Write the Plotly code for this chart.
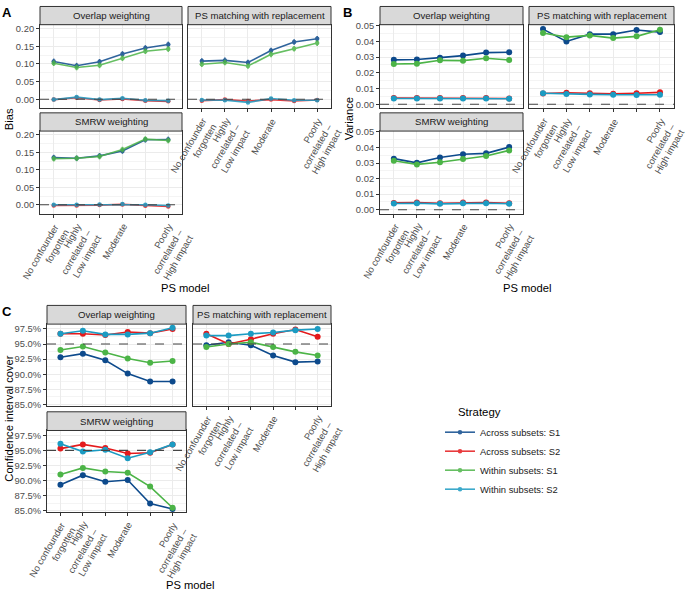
import math
import plotly.graph_objects as go

W, H = 685, 598

# PS model categories (positions 3 and 5 carry no visible tick label)
model_pos = [1, 2, 3, 4, 5, 6]
model_ticktext = ["No confounder\nforgotten", "Highly\ncorrelated –\nLow impact", "",
                  "Moderate", "", "Poorly\ncorrelated –\nHigh impact"]

strategies = ["Across subsets: S1", "Across subsets: S2", "Within subsets: S1", "Within subsets: S2"]
colors = ["#0d4a8c", "#e41a1c", "#4cb447", "#1b9bc2"]
methods = ["Overlap weighting", "PS matching with replacement", "SMRW weighting"]

# A - Bias (rows follow strategies)
bias_overlap = [
    [0.107, 0.095, 0.106, 0.128, 0.145, 0.155],
    [-0.001, 0.004, -0.002, 0.001, -0.004, -0.006],
    [0.102, 0.090, 0.096, 0.116, 0.136, 0.142],
    [-0.001, 0.006, -0.001, 0.003, -0.003, -0.004],
]
bias_matching = [
    [0.108, 0.110, 0.104, 0.138, 0.162, 0.171],
    [-0.004, -0.001, -0.005, -0.001, -0.005, -0.002],
    [0.099, 0.104, 0.094, 0.127, 0.143, 0.159],
    [-0.002, -0.003, -0.009, 0.002, -0.003, -0.003],
]
bias_smrw = [
    [0.135, 0.133, 0.140, 0.154, 0.186, 0.187],
    [-0.002, -0.002, -0.001, 0.001, -0.003, -0.005],
    [0.132, 0.133, 0.138, 0.158, 0.188, 0.184],
    [0.000, 0.000, 0.001, 0.002, 0.000, -0.002],
]
bias_halfwidth = [0.008, 0.003, 0.008, 0.003]

# B - Variance
var_overlap = [
    [0.0282, 0.0284, 0.0296, 0.0309, 0.0328, 0.0330],
    [0.0040, 0.0040, 0.0040, 0.0040, 0.0040, 0.0037],
    [0.0256, 0.0258, 0.0279, 0.0277, 0.0292, 0.0281],
    [0.0037, 0.0037, 0.0037, 0.0037, 0.0037, 0.0035],
]
var_matching = [
    [0.0477, 0.0399, 0.0445, 0.0445, 0.0471, 0.0458],
    [0.0069, 0.0073, 0.0070, 0.0067, 0.0070, 0.0076],
    [0.0452, 0.0426, 0.0437, 0.0420, 0.0431, 0.0473],
    [0.0070, 0.0065, 0.0063, 0.0061, 0.0059, 0.0061],
]
var_smrw = [
    [0.0328, 0.0301, 0.0335, 0.0356, 0.0362, 0.0402],
    [0.0044, 0.0046, 0.0042, 0.0046, 0.0046, 0.0042],
    [0.0314, 0.0291, 0.0305, 0.0326, 0.0345, 0.0381],
    [0.0040, 0.0042, 0.0038, 0.0042, 0.0042, 0.0039],
]

# C - Confidence interval cover (%)
cover_overlap = [
    [92.8, 93.4, 92.3, 90.1, 88.8, 88.8],
    [96.7, 96.7, 96.5, 97.0, 96.8, 97.5],
    [94.0, 94.6, 93.6, 92.6, 91.9, 92.2],
    [96.7, 97.2, 96.6, 96.6, 96.8, 97.7],
]
cover_matching = [
    [94.8, 95.3, 94.8, 93.1, 92.0, 92.1],
    [96.7, 95.0, 95.8, 96.7, 97.4, 96.2],
    [94.5, 95.0, 95.3, 94.5, 93.7, 93.1],
    [96.4, 96.4, 96.7, 96.9, 97.3, 97.5],
]
cover_smrw = [
    [89.3, 90.9, 89.8, 90.1, 86.2, 85.3],
    [95.3, 96.0, 95.4, 94.5, 94.6, 96.0],
    [91.0, 92.1, 91.5, 91.3, 89.0, 85.5],
    [96.1, 94.8, 95.1, 93.7, 94.7, 96.0],
]

# panel geometry in pixels: x0, x1, y0 (top of plot area), y1
panels = [
    ("bias", 0, bias_overlap, (40, 182, 20, 105), False, True),
    ("bias", 1, bias_matching, (188, 331, 20, 105), True, False),
    ("bias", 2, bias_smrw, (40, 182, 128, 212), True, True),
    ("var", 0, var_overlap, (380, 523, 20, 105), False, True),
    ("var", 1, var_matching, (529, 674, 20, 105), True, False),
    ("var", 2, var_smrw, (380, 523, 128, 212), True, True),
    ("cover", 0, cover_overlap, (47, 186, 324, 407), False, True),
    ("cover", 1, cover_matching, (193, 331, 324, 407), True, False),
    ("cover", 2, cover_smrw, (47, 186, 432, 515), True, True),
]

yspec = {
    "bias": dict(range=[-0.026, 0.211], dtick=0.05, tick0=0, tickformat=".2f", minor=0.025, ref=0),
    "var": dict(range=[-0.0026, 0.0505], dtick=0.01, tick0=0, tickformat=".2f", minor=0.005, ref=0),
    "cover": dict(range=[84.75, 98.3], dtick=2.5, tick0=85, tickformat=".1f", minor=1.25, ref=95,
                  suffix="%"),
}

FONT = "Liberation Sans, Arial, sans-serif"
TICK_FS = 9.4
ANG = 60
fig = go.Figure()
shapes, annotations = [], []
layout = {}


def fx(p):
    return p / W


def fy(p):
    return 1 - p / H


# rotated tick label geometry (ggplot-like angle=60, hjust=1, vjust=1)
box_h = TICK_FS * 1.3 + 2
c, s_ = math.cos(math.radians(ANG)), math.sin(math.radians(ANG))
line_step = 11.5


def tick_label_annotations(xa, ya):
    out = []
    for pos, label in zip(model_pos, model_ticktext):
        if not label:
            continue
        for k, line in enumerate(label.split("\n")):
            # visible end of line k relative to (tick, axis bottom)
            ex = 3.5 + k * line_step * s_
            ey = 8.5 + k * line_step * c
            out.append(dict(
                text=line, xref=xa, yref=f"{ya} domain", x=pos, y=0,
                xanchor="right", yanchor="top", textangle=-ANG, showarrow=False,
                xshift=ex + 0.5 * box_h * s_, yshift=-(ey - 0.25 * box_h),
                font=dict(size=TICK_FS, color="#4d4d4d", family=FONT),
            ))
    return out


for i, (metric, m, data, (x0, x1, y0, y1), show_x, show_y) in enumerate(panels, start=1):
    key = "" if i == 1 else str(i)
    xa, ya = f"x{key}", f"y{key}"
    for s, vals in enumerate(data):
        tr = dict(
            x=model_pos, y=vals, xaxis=xa, yaxis=ya, mode="lines+markers",
            name=strategies[s], legendgroup=strategies[s], showlegend=(i == 1),
            line=dict(color=colors[s], width=1.6),
            marker=dict(color=colors[s], size=4.5 if metric == "bias" else 6),
            hoverinfo="skip",
        )
        if metric == "bias":
            tr["error_y"] = dict(type="constant", value=bias_halfwidth[s], width=0,
                                 thickness=1.6, color=colors[s])
            tr["opacity"] = 0.85
        fig.add_trace(go.Scatter(**tr))

    spec = yspec[metric]
    layout[f"xaxis{key}"] = dict(
        domain=[fx(x0), fx(x1)], anchor=ya, range=[0.4, 6.6],
        tickmode="array", tickvals=model_pos, showticklabels=False,
        ticks="outside" if show_x else "", ticklen=3, tickcolor="#333333",
        showgrid=True, gridcolor="#ebebeb", gridwidth=1.1,
        showline=True, mirror=True, linecolor="#333333", linewidth=1, zeroline=False,
        fixedrange=True,
    )
    layout[f"yaxis{key}"] = dict(
        domain=[fy(y1), fy(y0)], anchor=xa, range=spec["range"],
        tickmode="linear", tick0=spec["tick0"], dtick=spec["dtick"], tickformat=spec["tickformat"],
        ticksuffix=spec.get("suffix", ""), showticklabels=show_y,
        ticks="outside" if show_y else "", ticklen=3, tickcolor="#333333",
        tickfont=dict(size=TICK_FS, color="#4d4d4d", family=FONT),
        showgrid=True, gridcolor="#ebebeb", gridwidth=1.1,
        minor=dict(showgrid=True, gridcolor="#f4f4f4", gridwidth=0.6, dtick=spec["minor"],
                   tick0=spec["tick0"]),
        showline=True, mirror=True, linecolor="#333333", linewidth=1, zeroline=False,
        fixedrange=True,
    )
    if show_x:
        annotations.extend(tick_label_annotations(xa, ya))
    # dashed reference line
    shapes.append(dict(type="line", xref=f"{xa} domain", yref=ya, x0=0, x1=1,
                       y0=spec["ref"], y1=spec["ref"],
                       line=dict(color="#444444", width=1.1, dash="dash"), layer="above"))
    # facet strip
    strip_h = 18.5 if metric != "cover" else 19
    shapes.append(dict(type="rect", xref="paper", yref="paper", x0=fx(x0), x1=fx(x1),
                       y0=fy(y0), y1=fy(y0 - strip_h), fillcolor="#d9d9d9",
                       line=dict(color="#333333", width=1), layer="above"))
    annotations.append(dict(text=methods[m], xref="paper", yref="paper",
                            x=fx((x0 + x1) / 2), y=fy(y0 - strip_h / 2), showarrow=False,
                            xanchor="center", yanchor="middle",
                            font=dict(size=9.6, color="#1a1a1a", family=FONT)))

# axis titles and panel letters
for text, x, y, ang in [
    ("Bias", 9, 116, -90), ("PS model", 185, 287, 0),
    ("Variance", 349, 116, -90), ("PS model", 527, 287, 0),
    ("Confidence interval cover", 9, 420, -90), ("PS model", 190, 589, 0),
]:
    annotations.append(dict(text=text, xref="paper", yref="paper", x=fx(x), y=fy(y),
                            showarrow=False, textangle=ang, xanchor="center", yanchor="middle",
                            font=dict(size=11.2, color="#000000", family=FONT)))
for text, x, y in [("A", 7, 8), ("B", 347, 8), ("C", 7, 311)]:
    annotations.append(dict(text=f"<b>{text}</b>", xref="paper", yref="paper", x=fx(x), y=fy(y),
                            showarrow=False, xanchor="center", yanchor="middle",
                            font=dict(size=13, color="#000000", family=FONT)))
# legend title
annotations.append(dict(text="Strategy", xref="paper", yref="paper", x=fx(456), y=fy(413),
                        showarrow=False, xanchor="left", yanchor="middle",
                        font=dict(size=11.4, color="#000000", family=FONT)))

fig.update_layout(
    width=W, height=H, autosize=False,
    margin=dict(l=0, r=0, t=0, b=0),
    paper_bgcolor="white", plot_bgcolor="white",
    font=dict(family=FONT),
    shapes=shapes, annotations=annotations,
    legend=dict(
        x=fx(440), y=fy(419), xanchor="left", yanchor="top",
        font=dict(size=9.4, color="#1a1a1a", family=FONT),
        bgcolor="rgba(0,0,0,0)", tracegroupgap=0,
    ),
    **layout,
)

# the page body has a default 8px margin; remove it so the figure fills the window
fig.write_html("out.html", config={"displayModeBar": False},
               post_script="document.body.style.margin='0';")
